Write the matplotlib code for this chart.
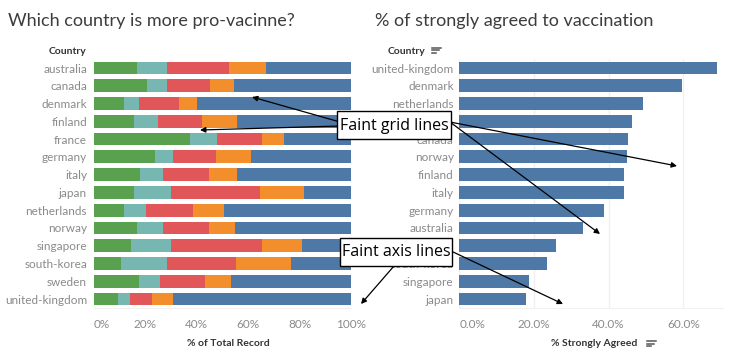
import matplotlib
matplotlib.use("Agg")
import matplotlib.pyplot as plt
from matplotlib.patches import Rectangle, FancyArrowPatch
from matplotlib.lines import Line2D

# ---------------- data ----------------
countries = ['australia', 'canada', 'denmark', 'finland', 'france', 'germany', 'italy',
             'japan', 'netherlands', 'norway', 'singapore', 'south-korea', 'sweden',
             'united-kingdom']
# response shares (% of total record), segments in stacked order (left -> right)
resp_green = [16.6, 20.5, 11.7, 15.6, 37.4, 23.7, 17.9, 15.6, 11.7, 16.6, 14.5, 10.4, 17.4, 9.5]
resp_teal = [11.7, 7.8, 5.9, 9.3, 10.6, 7.0, 8.8, 14.2, 8.4, 10.1, 15.5, 18.1, 8.4, 4.4]
resp_red = [24.2, 16.7, 15.6, 17.0, 17.4, 16.7, 17.9, 34.8, 18.3, 17.9, 35.4, 26.8, 17.4, 8.7]
resp_orange = [14.3, 9.4, 6.9, 13.7, 8.5, 13.6, 11.0, 17.2, 12.1, 10.4, 15.5, 21.2, 10.1, 8.1]
resp_blue = [33.2, 45.6, 59.9, 44.4, 26.1, 39.0, 44.4, 18.2, 49.5, 45.0, 19.1, 23.5, 46.7, 69.3]
left_ticks = [0, 20, 40, 60, 80, 100]

sorted_countries = ['united-kingdom', 'denmark', 'netherlands', 'sweden', 'canada', 'norway',
                    'finland', 'italy', 'germany', 'australia', 'france', 'south-korea',
                    'singapore', 'japan']
strongly_agreed = [68.9, 59.6, 49.3, 46.3, 45.2, 45.0, 44.0, 44.0, 38.8, 33.2, 25.9, 23.4,
                   18.8, 17.9]
right_ticks = [0, 20, 40, 60]

# ---------------- style ----------------
W, H = 734, 358
FONT = 'Lato'
C_TITLE = '#3c3c3c'
C_LABEL = '#8a8a8a'
C_HEAD = '#333333'
seg_colors = ['#59a14f', '#76b7b2', '#e15759', '#f28e2b', '#4e79a7']

fig = plt.figure(figsize=(W / 100, H / 100), dpi=100)
fig.patch.set_facecolor('white')


def fx(x):
    return x / W


def fy(y):
    return 1 - y / H


def axes_px(x0, x1, y0, y1):
    return fig.add_axes([fx(x0), fy(y1), (x1 - x0) / W, (y1 - y0) / H])


row_step = (299 - 68) / 13.0
top = 68 - row_step / 2
bot = 299 + row_step / 2
bar_h = 0.72

# ---------------- left chart ----------------
axL = axes_px(94, 351, top, bot)
ypos = list(range(len(countries)))
left = [0.0] * len(countries)
for vals, col in zip([resp_green, resp_teal, resp_red, resp_orange, resp_blue], seg_colors):
    axL.barh(ypos, vals, left=left, height=bar_h, color=col, linewidth=0)
    left = [a + b for a, b in zip(left, vals)]
axL.set_xlim(0, 100)
axL.set_ylim(len(countries) - 0.5, -0.5)
axL.set_yticks(ypos)
axL.set_yticklabels(countries, fontsize=8.5, color=C_LABEL, family=FONT)
axL.set_xticks(left_ticks)
axL.set_xticklabels([f'{t}%' for t in left_ticks], fontsize=8.5, color=C_LABEL, family=FONT)
axL.get_xticklabels()[0].set_ha('left')
axL.tick_params(axis='y', length=0, pad=5)
axL.tick_params(axis='x', length=0, pad=8)
for s in ['top', 'right', 'left']:
    axL.spines[s].set_visible(False)
axL.spines['bottom'].set_color('#f2f2f2')
axL.set_axisbelow(True)

# ---------------- right chart ----------------
px_per = (683.3 - 459.3) / 60.0
xmax = 70.5
axR = axes_px(459.3, 459.3 + xmax * px_per, top, bot)
yposR = list(range(len(sorted_countries)))
axR.barh(yposR, strongly_agreed, height=bar_h, color='#4e79a7', linewidth=0)
axR.set_xlim(0, xmax)
axR.set_ylim(len(sorted_countries) - 0.5, -0.5)
axR.set_yticks(yposR)
axR.set_yticklabels(sorted_countries, fontsize=8.5, color=C_LABEL, family=FONT)
axR.set_xticks(right_ticks)
axR.set_xticklabels([f'{t:.1f}%' for t in right_ticks], fontsize=8.5, color=C_LABEL, family=FONT)
axR.get_xticklabels()[0].set_ha('left')
axR.tick_params(axis='y', length=0, pad=4)
axR.tick_params(axis='x', length=0, pad=8)
for s in ['top', 'right', 'left']:
    axR.spines[s].set_visible(False)
axR.spines['bottom'].set_color('#f2f2f2')
axR.grid(axis='x', color='#f0f0f0', linewidth=1)
axR.set_axisbelow(True)

# ---------------- texts ----------------
fig.text(fx(8), fy(21), 'Which country is more pro-vacinne?', fontsize=13, color=C_TITLE,
         family=FONT, va='center', ha='left')
fig.text(fx(375), fy(21), '% of strongly agreed to vaccination', fontsize=13, color=C_TITLE,
         family=FONT, va='center', ha='left')
fig.text(fx(49), fy(52), 'Country', fontsize=7.5, color=C_HEAD, family=FONT,
         weight='bold', va='center', ha='left')
fig.text(fx(388), fy(52), 'Country', fontsize=7.5, color=C_HEAD, family=FONT,
         weight='bold', va='center', ha='left')
fig.text(fx(228), fy(343), '% of Total Record', fontsize=7.5, color=C_HEAD, family=FONT,
         weight='bold', va='center', ha='center')
fig.text(fx(594), fy(344), '% Strongly Agreed', fontsize=7.5, color=C_HEAD, family=FONT,
         weight='bold', va='center', ha='center')


def sort_icon(x, y):
    for i, ln in enumerate([9, 6.5, 4]):
        fig.add_artist(Line2D([fx(x), fx(x + ln)], [fy(y + i * 2.6), fy(y + i * 2.6)],
                              color='#555555', lw=1.1, transform=fig.transFigure))


sort_icon(432, 47.5)
sort_icon(647, 341)

# ---------------- annotations ----------------
def arrow(p0, p1):
    fig.add_artist(FancyArrowPatch((fx(p0[0]), fy(p0[1])), (fx(p1[0]), fy(p1[1])),
                                   transform=fig.transFigure, arrowstyle='-|>',
                                   mutation_scale=8, lw=0.9, color='black',
                                   shrinkA=0, shrinkB=0, zorder=5))


def box(x0, y0, x1, y1, label):
    fig.add_artist(Rectangle((fx(x0), fy(y1)), (x1 - x0) / W, (y1 - y0) / H,
                             transform=fig.transFigure, facecolor='white',
                             edgecolor='black', lw=1, zorder=6))
    fig.text(fx((x0 + x1) / 2), fy((y0 + y1) / 2 + 0.5), label, fontsize=11.5, color='black',
             family='Open Sans', va='center', ha='center', zorder=7)


arrow((340, 122), (252, 97))
arrow((340, 126), (200, 130))
arrow((450, 122), (677, 166))
arrow((450, 122), (600, 234))
box(337, 111, 451, 139, 'Faint grid lines')

arrow((394, 266), (361, 304))
arrow((451, 251), (563, 304))
box(340, 238, 452, 266, 'Faint axis lines')

fig.savefig('out.png', dpi=100, facecolor='white')
